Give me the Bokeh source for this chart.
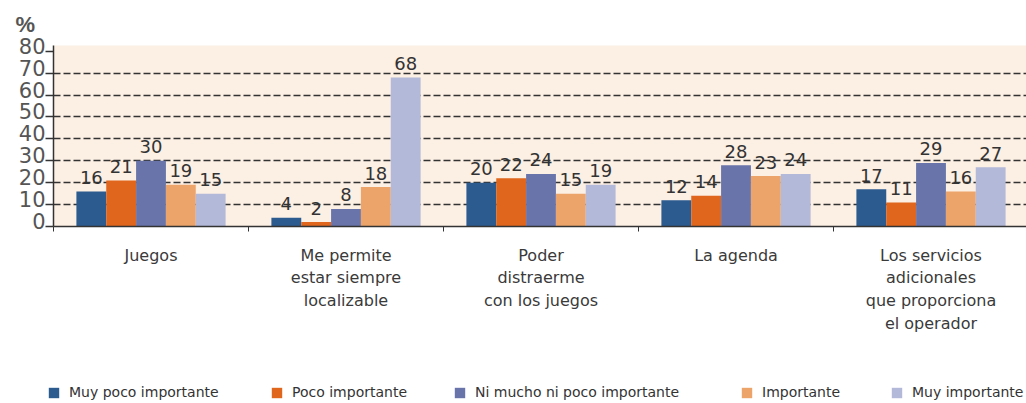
from bokeh.plotting import figure
from bokeh.layouts import column
from bokeh.models import Range1d, FixedTicker, Legend, LegendItem, LinearAxis
from bokeh.core.properties import value
from bokeh.embed import file_html
from bokeh.resources import INLINE
import numpy as np

# ---- data ----
categories = [
    "Juegos",
    "Me permite\nestar siempre\nlocalizable",
    "Poder\ndistraerme\ncon los juegos",
    "La agenda",
    "Los servicios\nadicionales\nque proporciona\nel operador",
]
series_names = ["Muy poco importante", "Poco importante", "Ni mucho ni poco importante",
                "Importante", "Muy importante"]
muy_poco = [16, 4, 20, 12, 17]
poco = [21, 2, 22, 14, 11]
ni_mucho = [30, 8, 24, 28, 29]
importante = [19, 18, 15, 23, 16]
muy_importante = [15, 68, 19, 24, 27]
y_ticks = [0, 10, 20, 30, 40, 50, 60, 70, 80]
grid_ticks = [10, 20, 30, 40, 50, 60, 70]

series = [muy_poco, poco, ni_mucho, importante, muy_importante]
colors = ["#2b5b8f", "#df661c", "#6874aa", "#eda46b", "#b3b9d8"]

# ---- layout constants ----
W = 1026
H_MAIN, H_LEG = 370, 33
left_b, top_b = 53, 45
frame_bottom = 226
frame_w = W - left_b
group_px = 195.0
ymax = 82.6
px_per_unit = (frame_bottom - top_b) / ymax
label_shift = 2.5                      # tick labels sit slightly above their ticks
legend_x = [47, 270, 453, 740, 890]    # legend swatch positions (px)

p = figure(width=W, height=H_MAIN, output_backend="svg", toolbar_location=None,
           x_range=Range1d(0, frame_w / group_px), y_range=Range1d(0, ymax),
           min_border_left=left_b, min_border_right=0, min_border_top=top_b,
           min_border_bottom=H_MAIN - frame_bottom)
p.background_fill_color = "#fcefe3"
p.border_fill_color = "white"
p.outline_line_color = None

# title "%"
p.title.text = "%"
p.title.align = "left"
p.title.offset = -38
p.title.standoff = 18
p.title.text_font = "Liberation Sans"
p.title.text_font_size = "22px"
p.title.text_font_style = "bold"
p.title.text_color = "#555555"

# main y axis: line + ticks only (labels not painted)
p.yaxis.ticker = FixedTicker(ticks=y_ticks)
p.yaxis.major_label_text_font_size = "1px"
p.yaxis.major_label_text_color = None
p.yaxis.major_label_standoff = 0
p.yaxis.major_tick_out = 8
p.yaxis.major_tick_in = 0
p.yaxis.minor_tick_line_color = None
p.yaxis.axis_line_color = "#333333"
p.yaxis.axis_line_width = 1.5
p.yaxis.major_tick_line_color = "#333333"
p.yaxis.major_tick_line_width = 1.5

# label axis, shifted slightly upward
p.extra_y_ranges = {"lab": Range1d(-label_shift, ymax - label_shift)}
lab_axis = LinearAxis(y_range_name="lab", ticker=FixedTicker(ticks=y_ticks),
                      axis_line_color=None, major_tick_line_color=None,
                      minor_tick_line_color=None, major_label_standoff=0,
                      major_tick_out=0, major_tick_in=0,
                      major_label_text_font="DejaVu Sans",
                      major_label_text_font_size="21px",
                      major_label_text_color="#555555")
p.add_layout(lab_axis, "left")

# x axis with category labels at group centres, small ticks at group boundaries
n = len(categories)
centers = np.arange(n) + 0.5
p.xaxis.ticker = FixedTicker(ticks=list(centers), minor_ticks=list(range(n + 1)))
p.xaxis.major_label_overrides = {float(c): lab for c, lab in zip(centers, categories)}
p.xaxis.major_label_text_font = "DejaVu Sans"
p.xaxis.major_label_text_font_size = "16px"
p.xaxis.major_label_text_color = "#3a3a3a"
p.xaxis.major_label_standoff = 13
p.xaxis.major_tick_line_color = None
p.xaxis.minor_tick_out = 5
p.xaxis.minor_tick_in = 0
p.xaxis.minor_tick_line_color = "#333333"
p.xaxis.axis_line_color = "#333333"
p.xaxis.axis_line_width = 1.5

p.xgrid.grid_line_color = None
p.ygrid.ticker = FixedTicker(ticks=grid_ticks)
p.ygrid.grid_line_color = "#333333"
p.ygrid.grid_line_width = 1.6
p.ygrid.grid_line_dash = "7 3"

# bars + value labels
bw = 0.153
label_lift = 14 / px_per_unit
for k, (vals, col) in enumerate(zip(series, colors)):
    xs = centers + (k - 2) * bw
    p.vbar(x=xs, top=vals, width=bw, fill_color=col, line_color=None)
    p.text(x=xs, y=[v + label_lift for v in vals], text=[str(v) for v in vals],
           text_align="center", text_baseline="alphabetic",
           text_font=value("DejaVu Sans"), text_font_size="18px",
           text_color="#333333")

# ---- legend strip ----
lf = figure(width=W, height=H_LEG, output_backend="svg", toolbar_location=None,
            x_axis_location=None, y_axis_location=None,
            x_range=Range1d(0, 1), y_range=Range1d(0, 1),
            min_border_left=0, min_border_right=0, min_border_top=0, min_border_bottom=0)
frame_offset = left_b
if "frame_align" in lf.properties():
    lf.frame_align = False
    p.frame_align = False
    frame_offset = 0
lf.outline_line_color = None
lf.grid.grid_line_color = None
lf.background_fill_color = "white"
for name, col, lx in zip(series_names, colors, legend_x):
    # zero-size swatch renderer, only used to draw the legend glyph
    r = lf.vbar(x=[0.5], top=[0], bottom=0, width=0, fill_color=col, line_color=None)
    lg = Legend(items=[LegendItem(label=name, renderers=[r])],
                location=(max(lx - frame_offset, 0), 3),
                glyph_width=13, glyph_height=13, label_height=13,
                label_standoff=9, padding=0, margin=0, border_line_alpha=0,
                background_fill_alpha=0, label_text_font="DejaVu Sans",
                label_text_font_size="14px", label_text_color="#333333",
                label_text_baseline="middle")
    lf.add_layout(lg)

layout = column(p, lf, spacing=0)
open("out.html", "w").write(file_html(layout, INLINE))
